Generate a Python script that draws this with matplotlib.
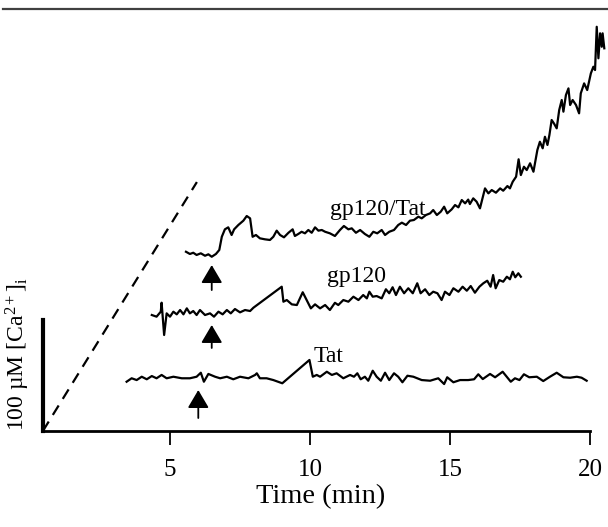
import matplotlib
matplotlib.use("Agg")
import matplotlib.pyplot as plt
from matplotlib.lines import Line2D
from matplotlib.transforms import blended_transform_factory

plt.rcParams['font.family'] = ['Liberation Serif', 'DejaVu Serif']
plt.rcParams['mathtext.fontset'] = 'custom'
plt.rcParams['mathtext.rm'] = 'Liberation Serif'
plt.rcParams['mathtext.it'] = 'Liberation Serif:italic'

# ---- data (time in min, [Ca2+]i in uM, traces offset vertically) ----
tat_t = [3.45, 3.63, 3.81, 3.99, 4.17, 4.35, 4.52, 4.70, 4.88, 5.12, 5.42, 5.71, 5.95, 6.10, 6.21,
         6.37, 6.61, 6.79, 7.03, 7.26, 7.50, 7.80, 8.04, 8.10, 8.21, 8.45, 8.69, 9.01, 9.98, 10.10,
         10.24, 10.36, 10.60, 10.78, 10.95, 11.19, 11.43, 11.57, 11.69, 11.81, 11.96, 12.08, 12.24,
         12.38, 12.53, 12.68, 12.83, 13.00, 13.15, 13.30, 13.48, 13.69, 13.99, 14.29, 14.58, 14.79,
         14.90, 15.12, 15.36, 15.65, 15.86, 16.01, 16.17, 16.43, 16.61, 16.88, 17.17, 17.32, 17.48,
         17.64, 17.83, 18.10, 18.33, 18.57, 18.81, 19.05, 19.29, 19.53, 19.70, 19.88]
tat_v = [44.4, 47.5, 45.9, 48.9, 46.6, 49.5, 47.5, 50.5, 47.5, 48.9, 47.5, 47.5, 48.9, 52.5, 44.4,
         51.4, 48.9, 47.5, 48.9, 46.6, 48.9, 47.5, 50.5, 52.0, 47.5, 47.5, 45.9, 43.0, 64.0, 48.9,
         50.5, 48.9, 53.4, 50.5, 52.0, 47.5, 50.5, 48.9, 52.0, 46.6, 48.9, 45.3, 54.3,
         48.9, 45.3, 52.5, 45.9, 52.0, 48.9, 43.9, 49.8, 48.9, 45.9, 45.3, 47.5, 42.3,
         48.4, 43.9, 45.9, 45.9, 46.6, 51.1, 46.8, 51.4, 48.4, 53.4, 44.4, 47.5, 45.9,
         51.1, 48.4, 48.9, 45.0, 48.9, 52.5, 48.4, 48.0, 48.9, 48.0, 45.3]

gp_t = [4.35, 4.52, 4.67, 4.70, 4.79, 4.88, 5.00, 5.12, 5.24, 5.36, 5.48, 5.60, 5.71, 5.83, 5.95,
        6.07, 6.25, 6.43, 6.57, 6.73, 6.88, 7.03, 7.17, 7.32, 7.50, 7.68, 7.86, 7.98, 8.99, 9.05,
        9.17, 9.35, 9.53, 9.74, 9.88, 10.03, 10.18, 10.36, 10.54, 10.71, 10.89, 11.01, 11.19, 11.37,
        11.55, 11.73, 11.90, 12.03, 12.12, 12.24, 12.38, 12.56, 12.71, 12.83, 12.95, 13.07, 13.21,
        13.36, 13.51, 13.67, 13.83, 13.95, 14.11, 14.26, 14.40, 14.55, 14.70, 14.82, 14.98, 15.12,
        15.30, 15.45, 15.60, 15.74, 15.89, 16.05, 16.19, 16.33, 16.45, 16.54, 16.63, 16.76, 16.90,
        17.03, 17.14, 17.24, 17.33, 17.44, 17.53]
gp_v = [104.5, 103.0, 107.5, 115.6, 86.5, 106.0, 103.0, 107.5, 105.1, 109.0, 105.1, 110.5, 106.0, 108.1, 104.5,
        109.0, 104.5, 106.0, 103.0, 107.5, 105.1, 109.0, 106.0, 109.9, 106.9, 109.0, 108.1, 111.1, 130.0, 116.5,
        118.0, 114.1, 113.5, 125.0, 118.0, 110.5, 114.1, 110.5, 113.5, 109.0, 115.5, 113.5, 118.0, 116.5,
        121.0, 118.0, 122.5, 119.5, 125.5, 121.0, 121.6, 119.5, 127.7, 124.1, 129.5, 122.5, 130.0,
        124.1, 128.6, 124.1, 133.1, 124.1, 127.7, 122.5, 125.5, 124.1, 118.0, 125.5, 122.5, 128.6,
        125.5, 130.0, 126.4, 130.6, 124.6, 130.0, 133.1, 135.4, 130.0, 140.5, 128.6, 136.0, 134.5,
        139.0, 136.7, 143.5, 138.5, 142.1, 139.0]

gptat_t = [5.57, 5.71, 5.83, 5.95, 6.10, 6.25, 6.37, 6.49, 6.64, 6.76, 6.85, 6.96, 7.08, 7.20, 7.29,
           7.44, 7.62, 7.74, 7.86, 7.95, 8.07, 8.21, 8.39, 8.57, 8.69, 8.81, 8.93, 9.07, 9.23, 9.38,
           9.46, 9.58, 9.70, 9.82, 9.94, 10.06, 10.18, 10.30, 10.42, 10.54, 10.71, 10.89, 11.07, 11.21,
           11.37, 11.49, 11.64, 11.79, 11.96, 12.12, 12.26, 12.40, 12.56, 12.68, 12.83, 13.00, 13.15,
           13.28, 13.43, 13.57, 13.71, 13.87, 13.99, 14.14, 14.29, 14.40, 14.53, 14.67, 14.79, 14.90,
           15.06, 15.18, 15.30, 15.42, 15.54, 15.65, 15.71, 15.83, 15.95, 16.07, 16.25, 16.37, 16.49,
           16.64, 16.79, 16.90, 17.05, 17.14, 17.24, 17.36, 17.45, 17.53, 17.64, 17.74, 17.86, 17.98,
           18.12, 18.21, 18.31, 18.39, 18.48, 18.55, 18.63, 18.71, 18.81, 18.90, 18.99, 19.05, 19.14,
           19.23, 19.29, 19.38, 19.50, 19.61, 19.67, 19.79, 19.90, 20.03, 20.12, 20.18, 20.24, 20.30,
           20.36, 20.42, 20.45, 20.51]
gptat_v = [161.5, 159.5, 160.6, 158.6, 160.1, 157.9, 159.2, 157.0, 159.5, 163.1, 175.0, 181.7, 183.5, 176.6, 181.7,
           185.6, 189.5, 193.7, 191.6, 175.0, 176.6, 173.6, 172.7, 172.1, 175.0, 180.5, 176.6, 174.5, 178.6, 181.7,
           175.7, 177.5, 179.5, 178.1, 181.1, 178.6, 183.5, 180.5, 181.1, 179.5, 178.1, 175.7, 181.1, 184.7,
           181.7, 182.6, 178.6, 181.1, 177.5, 175.0, 179.5, 178.1, 181.1, 176.6, 179.5, 181.1, 185.6,
           187.7, 185.6, 189.5, 190.1, 193.1, 191.6, 194.6, 196.1, 199.1, 194.6, 197.6, 202.1, 196.1,
           199.7, 203.6, 201.5, 208.1, 205.1, 208.5, 204.5, 209.6, 206.6, 200.6, 218.6, 214.1, 217.1,
           214.7, 218.6, 216.5, 220.7, 218.6, 224.6, 229.1, 244.8, 230.6, 238.1, 235.1, 241.2, 233.6,
           253.2, 260.6, 254.7, 265.1, 257.7, 266.7, 280.2, 277.2, 272.7, 289.2, 298.2, 287.7, 302.7,
           308.7, 293.7, 298.2, 293.7, 286.2, 304.2, 313.2, 307.2, 322.2, 328.2, 325.2, 364.2, 335.8,
           358.3, 346.2, 358.3, 344.8]

trace_labels = ["gp120/Tat", "gp120", "Tat"]
label_pos_t = [10.71, 10.61, 10.12]
label_pos_v = [194.6, 134.2, 62.4]

# application times (arrows): time, tip value, tail value
arrow_t = [6.49, 6.49, 6.01]
arrow_tip = [149.5, 95.5, 36.9]
arrow_tail = [127.0, 74.8, 11.7]

dash_t = [0.46, 5.96]
dash_v = [0.0, 224.3]

xticks = [5, 10, 15, 20]
scale_bar = 100
scale_label = "100 \u00b5M [Ca$^{2+}$]$_\\mathrm{i}$"

# ---- figure ----
fig = plt.figure(figsize=(6.08, 5.27), dpi=100)
ax = fig.add_axes([43/608, 1 - 431/527, (606 - 43)/608, (431 - 20)/527])
ax.set_xlim(0.464, 20.571)
ax.set_ylim(0, 370.3)

lw = 1.6
ax.plot(gptat_t, gptat_v, color='black', lw=lw, clip_on=False)
ax.plot(gp_t, gp_v, color='black', lw=lw)
ax.plot(tat_t, tat_v, color='black', lw=lw)
ax.plot(dash_t, dash_v, color='black', lw=1.6, ls=(0, (5, 3.5)))

for lab, tx, ty in zip(trace_labels, label_pos_t, label_pos_v):
    ax.text(tx, ty, lab, ha='left', va='baseline', fontsize=17)

for tx, tip, tail in zip(arrow_t, arrow_tip, arrow_tail):
    ax.annotate('', xy=(tx, tip), xytext=(tx, tail),
                arrowprops=dict(arrowstyle='-|>,head_length=1.1,head_width=0.65',
                                color='black', lw=1.3, shrinkA=0, shrinkB=0))

for s in ['top', 'right']:
    ax.spines[s].set_visible(False)
ax.spines['left'].set_bounds(0, scale_bar)
ax.spines['left'].set_linewidth(3)
ax.spines['bottom'].set_bounds(0.464, 20)
ax.spines['bottom'].set_linewidth(2)

ax.set_yticks([])
ax.set_xticks(xticks)
ax.set_xticklabels([str(x) for x in xticks])
ax.tick_params(axis='x', direction='out', length=10, width=1.3, labelsize=18, pad=10)

tr = blended_transform_factory(fig.transFigure, ax.transData)
ax.text(18/608, 0, scale_label, transform=tr, rotation=90, ha='center', va='bottom', fontsize=17)

fig.text(321/608, 1 - 497/527, "Time (min)", ha='center', va='center', fontsize=20.5)

fig.add_artist(Line2D([3/608, 1], [1 - 8.5/527] * 2, transform=fig.transFigure, color='#404040', lw=1.6))

fig.savefig('out.png', dpi=100)
